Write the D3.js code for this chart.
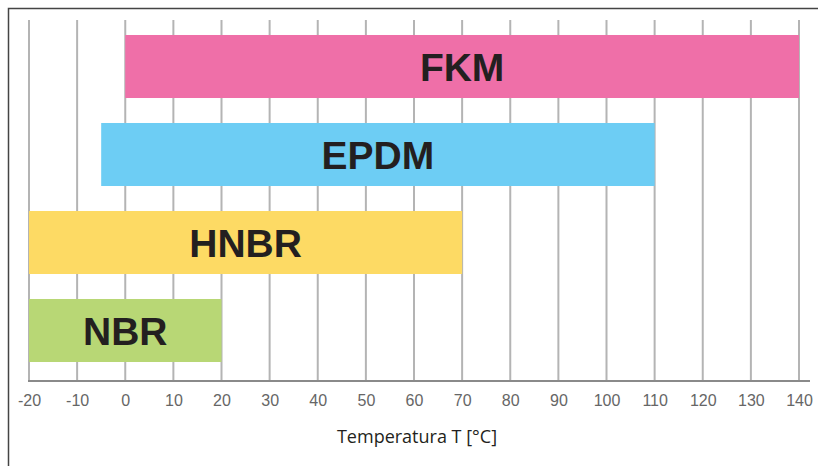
<!DOCTYPE html>
<html>
<head>
<meta charset="utf-8">
<script src="https://cdn.jsdelivr.net/npm/d3@7"></script>
<style>
  body { margin: 0; background: #fff; }
</style>
</head>
<body>
<div id="chart"></div>
<script>
// data
const materials = ["FKM", "EPDM", "HNBR", "NBR"];
const tempMin = [0, -5, -20, -20];
const tempMax = [140, 110, 70, 20];
const barColors = ["#ef6fa8", "#6dcdf4", "#fdda64", "#b8d775"];
const tickValues = [-20, -10, 0, 10, 20, 30, 40, 50, 60, 70, 80, 90, 100, 110, 120, 130, 140];

const width = 818, height = 466;

const svg = d3.select("#chart")
    .append("svg")
    .attr("width", width)
    .attr("height", height);

// frame (only top and left are visible)
svg.append("rect")
    .attr("x", 8.5)
    .attr("y", 8.5)
    .attr("width", 830)
    .attr("height", 480)
    .attr("fill", "none")
    .attr("stroke", "#444")
    .attr("stroke-width", 1.5);

var xScale = d3.scaleLinear().domain([-20, 140]).range([29, 799]);
var yScale = d3.scaleBand().domain(materials).range([22.5, 374.5])
    .paddingInner(0.284).paddingOuter(0.142);

const axisY = 381;

// vertical grid lines
svg.append("g")
    .selectAll("line")
    .data(tickValues)
    .join("line")
    .attr("x1", d => xScale(d))
    .attr("x2", d => xScale(d))
    .attr("y1", 20)
    .attr("y2", axisY)
    .attr("stroke", "#b4b4b4")
    .attr("stroke-width", 2);

// bars
const rows = materials.map((m, i) => ({name: m, lo: tempMin[i], hi: tempMax[i], color: barColors[i]}));

svg.append("g")
    .selectAll("rect")
    .data(rows)
    .join("rect")
    .attr("x", d => xScale(d.lo))
    .attr("y", d => yScale(d.name))
    .attr("width", d => xScale(d.hi) - xScale(d.lo))
    .attr("height", yScale.bandwidth())
    .attr("fill", d => d.color);

svg.append("g")
    .selectAll("text")
    .data(rows)
    .join("text")
    .attr("x", d => (xScale(d.lo) + xScale(d.hi)) / 2)
    .attr("y", d => yScale(d.name) + yScale.bandwidth() / 2 + 14)
    .attr("text-anchor", "middle")
    .attr("font-family", "'Liberation Sans', Arial, sans-serif")
    .attr("font-weight", "bold")
    .attr("font-size", "39px")
    .attr("fill", "#231f20")
    .text(d => d.name);

// x axis
const xAxis = svg.append("g")
    .attr("transform", `translate(0, ${axisY})`)
    .call(d3.axisBottom(xScale).tickValues(tickValues).tickFormat(d => String(d))
        .tickSize(0).tickPadding(14));

xAxis.select(".domain")
    .attr("d", `M28,0H810`)
    .attr("stroke", "#8a8a8a")
    .attr("stroke-width", 2);

xAxis.selectAll("text")
    .attr("font-family", "'Liberation Sans', Arial, sans-serif")
    .attr("font-size", "16px")
    .attr("fill", "#666");

svg.append("text")
    .attr("x", 417)
    .attr("y", 443)
    .attr("text-anchor", "middle")
    .attr("font-family", "'Open Sans', sans-serif")
    .attr("font-size", "18px")
    .attr("fill", "#231f20")
    .text("Temperatura T [°C]");
</script>
</body>
</html>
